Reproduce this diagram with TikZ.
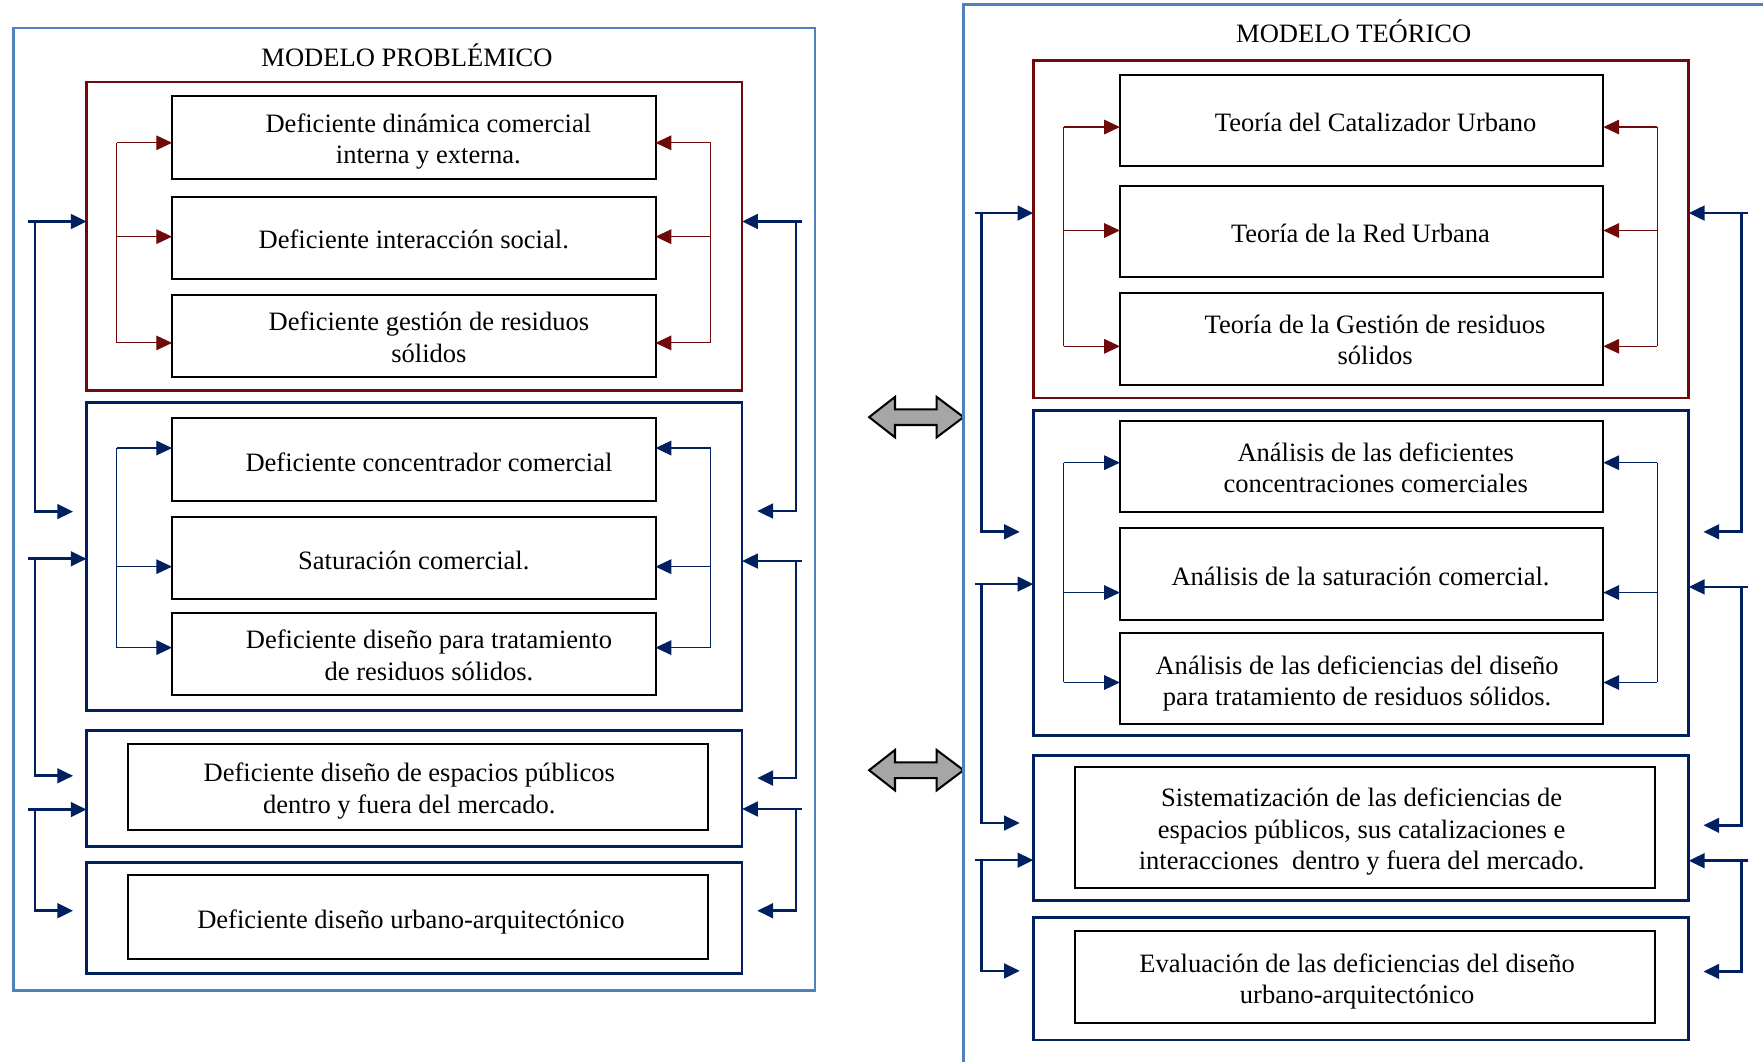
\documentclass[tikz,border=0pt]{standalone}
\usepackage{fontspec}
\setmainfont{Liberation Serif}
\usetikzlibrary{arrows.meta}
\definecolor{steel}{HTML}{4F81BD}
\definecolor{dred}{HTML}{6E0A0A}
\definecolor{navy}{HTML}{002060}
\definecolor{dagray}{HTML}{A6A6A6}
\newcommand\mkbox[6]{\node[#1, minimum width={(#5-#3)*1pt}, minimum height={(#6-#4)*1pt}] (#2) at ({(#3+#5)/2},{(#4+#6)/2}) {};}
\newcommand\lconn[7]{%
  \coordinate (#1a) at (#2,#4); \coordinate (#1b) at (#3,#4);
  \coordinate (#1c) at (#3,#5); \coordinate (#1d) at (#6,#5);
  \draw[con,-mytip] (#1a) -- (#1a -| #7);
  \draw[con,-mytip] (#1b) -- (#1c) -- (#1d);}
\tikzset{
  mytip/.tip={Triangle[length=14pt,width=13pt]},
  outerb/.style={draw=steel, line width=2pt, inner sep=0pt, outer sep=0pt},
  redb/.style={draw=dred, line width=2.4pt, inner sep=0pt, outer sep=0pt},
  blueb/.style={draw=navy, line width=2.4pt, inner sep=0pt, outer sep=0pt},
  ibox/.style={draw=black, line width=1.8pt, inner sep=0pt, outer sep=0pt},
  txt/.style={align=center, inner sep=0pt, yshift=-3pt},
  brR/.style={draw=dred, line width=1pt},
  brB/.style={draw=navy, line width=1pt},
  con/.style={draw=navy, line width=2.4pt},
  darr/.style={draw=black, line width=1.8pt, fill=dagray, line join=miter}
}
\begin{document}
\begin{tikzpicture}[x=1pt,y=-1pt,font=\fontsize{23.6pt}{28pt}\selectfont]
\useasboundingbox (0,0) rectangle (1568,944);

% ================= LEFT: MODELO PROBLEMICO =================
\mkbox{outerb}{LP}{12}{25}{725}{881}
\node[txt] (LPt) at (362,50) {\strut MODELO PROBLÉMICO};

\mkbox{redb}{LR1}{77}{73}{660}{347}
\mkbox{ibox}{p1}{153}{85}{583}{159}
\mkbox{ibox}{p2}{153}{175}{583}{248}
\mkbox{ibox}{p3}{153}{262}{583}{335}
\node[txt] (p1t) at (381,123) {\strut Deficiente dinámica comercial\\\strut interna y externa.};
\node[txt] (p2t) at (368,212) {\strut Deficiente interacción social.};
\node[txt] (p3t) at (381.5,299.5) {\strut Deficiente gestión de residuos\\\strut sólidos};

\mkbox{blueb}{LB2}{77}{358}{660}{632}
\mkbox{ibox}{p4}{153}{372}{583}{446}
\mkbox{ibox}{p5}{153}{460}{583}{533}
\mkbox{ibox}{p6}{153}{545}{583}{618}
\node[txt] (p4t) at (381.5,411) {\strut Deficiente concentrador comercial};
\node[txt] (p5t) at (368,498) {\strut Saturación comercial.};
\node[txt] (p6t) at (381.5,582.5) {\strut Deficiente diseño para tratamiento\\\strut de residuos sólidos.};

\mkbox{blueb}{LB3}{77}{650}{660}{753}
\mkbox{ibox}{p7}{114}{662}{630}{738}
\node[txt] (p7t) at (364,700.5) {\strut Deficiente diseño de espacios públicos\\\strut dentro y fuera del mercado.};

\mkbox{blueb}{LB4}{77}{767}{660}{866}
\mkbox{ibox}{p8}{114}{778}{630}{853}
\node[txt] (p8t) at (365.5,817) {\strut Deficiente diseño urbano-arquitectónico};

% inner brackets left model
\coordinate (lr1) at (104,127); \coordinate (lr2) at (104,210.5); \coordinate (lr3) at (104,305);
\coordinate (rr1) at (632,127); \coordinate (rr2) at (632,210.5); \coordinate (rr3) at (632,305);
\draw[brR] (lr1) -- (lr3);
\draw[brR] (rr1) -- (rr3);
\foreach \c/\n in {lr1/p1,lr2/p2,lr3/p3} \draw[brR,-mytip] (\c) -- (\c -| \n.west);
\foreach \c/\n in {rr1/p1,rr2/p2,rr3/p3} \draw[brR,-mytip] (\c) -- (\c -| \n.east);

\coordinate (lb1) at (104,398.5); \coordinate (lb2) at (104,504); \coordinate (lb3) at (104,576);
\coordinate (rb1) at (632,398.5); \coordinate (rb2) at (632,504); \coordinate (rb3) at (632,576);
\draw[brB] (lb1) -- (lb3);
\draw[brB] (rb1) -- (rb3);
\foreach \c/\n in {lb1/p4,lb2/p5,lb3/p6} \draw[brB,-mytip] (\c) -- (\c -| \n.west);
\foreach \c/\n in {rb1/p4,rb2/p5,rb3/p6} \draw[brB,-mytip] (\c) -- (\c -| \n.east);

% outer connectors left model
\lconn{la}{25}{31}{197}{455}{65}{LR1.west}
\lconn{lb}{25}{31}{497}{690}{65}{LB2.west}
\lconn{lc}{25}{31}{720}{810}{65}{LB3.west}
\lconn{ra}{713}{708}{197}{454.5}{673.5}{LR1.east}
\lconn{rb}{713}{708}{499}{692}{673.5}{LB2.east}
\lconn{rc}{713}{708}{719.5}{810}{673.5}{LB3.east}

% ================= DOUBLE ARROWS =================
\draw[darr] (773,371) -- (796,353) -- (796,364) -- (833,364) -- (833,353) -- (857,371)
  -- (833,389) -- (833,378) -- (796,378) -- (796,389) -- cycle;
\draw[darr] (773,685) -- (796,667) -- (796,678) -- (833,678) -- (833,667) -- (857,685)
  -- (833,703) -- (833,692) -- (796,692) -- (796,703) -- cycle;

% ================= RIGHT: MODELO TEORICO =================
\begin{scope}
\clip (0,0) rectangle (1568,944);
\mkbox{outerb}{RT}{857}{4}{1600}{1000}
\end{scope}
\node[txt] (RTt) at (1204,29) {\strut MODELO TEÓRICO};

\mkbox{redb}{RR1}{919}{54}{1502}{354}
\mkbox{ibox}{q1}{996}{67}{1426}{148}
\mkbox{ibox}{q2}{996}{165}{1426}{246}
\mkbox{ibox}{q3}{996}{261}{1426}{342}
\node[txt] (q1t) at (1223.5,108) {\strut Teoría del Catalizador Urbano};
\node[txt] (q2t) at (1210,207) {\strut Teoría de la Red Urbana};
\node[txt] (q3t) at (1223,302) {\strut Teoría de la Gestión de residuos\\\strut sólidos};

\mkbox{blueb}{RB2}{919}{365}{1502}{654}
\mkbox{ibox}{q4}{996}{374}{1426}{455}
\mkbox{ibox}{q5}{996}{470}{1426}{551}
\mkbox{ibox}{q6}{996}{563}{1426}{644}
\node[txt] (q4t) at (1223.5,415.5) {\strut Análisis de las deficientes\\\strut concentraciones comerciales};
\node[txt] (q5t) at (1210,512) {\strut Análisis de la saturación comercial.};
\node[txt] (q6t) at (1207,605) {\strut Análisis de las deficiencias del diseño\\\strut para tratamiento de residuos sólidos.};

\mkbox{blueb}{RB3}{919}{672}{1502}{801}
\mkbox{ibox}{q7}{956}{682}{1472}{790}
\node[txt] (q7t) at (1211,737) {\strut Sistematización de las deficiencias de\\\strut espacios públicos, sus catalizaciones e\\\strut interacciones\ \ dentro y fuera del mercado.};

\mkbox{blueb}{RB4}{919}{816}{1502}{925}
\mkbox{ibox}{q8}{956}{828}{1472}{910}
\node[txt] (q8t) at (1207,870) {\strut Evaluación de las deficiencias del diseño\\\strut urbano-arquitectónico};

% inner brackets right model
\coordinate (Lr1) at (946,113); \coordinate (Lr2) at (946,205); \coordinate (Lr3) at (946,308);
\coordinate (Rr1) at (1474,113); \coordinate (Rr2) at (1474,205); \coordinate (Rr3) at (1474,308);
\draw[brR] (Lr1) -- (Lr3);
\draw[brR] (Rr1) -- (Rr3);
\foreach \c/\n in {Lr1/q1,Lr2/q2,Lr3/q3} \draw[brR,-mytip] (\c) -- (\c -| \n.west);
\foreach \c/\n in {Rr1/q1,Rr2/q2,Rr3/q3} \draw[brR,-mytip] (\c) -- (\c -| \n.east);

\coordinate (Lb1) at (946,411.5); \coordinate (Lb2) at (946,527); \coordinate (Lb3) at (946,607);
\coordinate (Rb1) at (1474,411.5); \coordinate (Rb2) at (1474,527); \coordinate (Rb3) at (1474,607);
\draw[brB] (Lb1) -- (Lb3);
\draw[brB] (Rb1) -- (Rb3);
\foreach \c/\n in {Lb1/q4,Lb2/q5,Lb3/q6} \draw[brB,-mytip] (\c) -- (\c -| \n.west);
\foreach \c/\n in {Rb1/q4,Rb2/q5,Rb3/q6} \draw[brB,-mytip] (\c) -- (\c -| \n.east);

% outer connectors right model
\lconn{La}{867}{873}{189.5}{473}{907}{RR1.west}
\lconn{Lb}{867}{873}{519.5}{732}{907}{RB2.west}
\lconn{Lc}{867}{873}{765}{863.5}{907}{RB3.west}
\lconn{Ra}{1555}{1549}{189.5}{473}{1515}{RR1.east}
\lconn{Rb}{1555}{1549}{522}{734}{1515}{RB2.east}
\lconn{Rc}{1555}{1549}{765.5}{864}{1515}{RB3.east}
\end{tikzpicture}
\end{document}
